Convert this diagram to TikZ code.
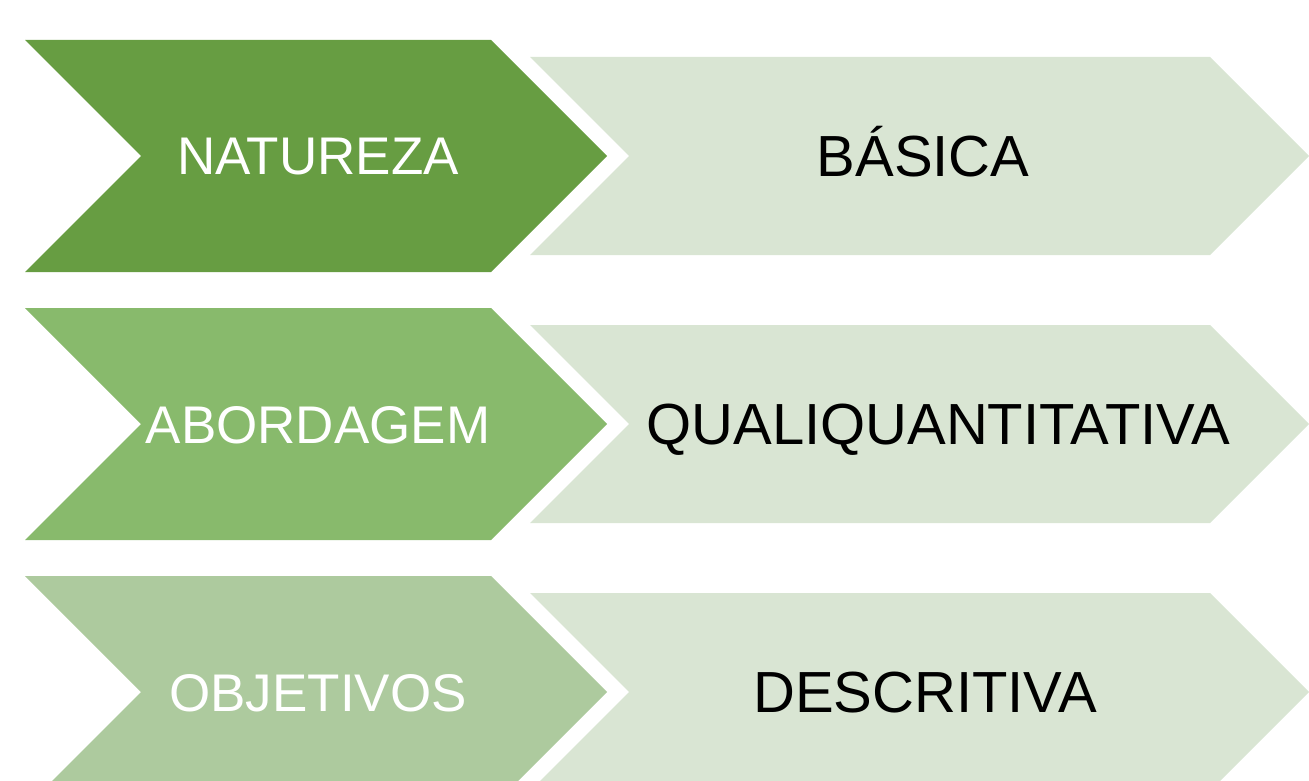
\documentclass[tikz,border=0pt]{standalone}
\usepackage{fontspec}
\setmainfont{Liberation Sans}
\definecolor{greendark}{HTML}{679D42}
\definecolor{greenmid}{HTML}{88BA6C}
\definecolor{greenpale}{HTML}{ADCA9E}
\definecolor{greenback}{HTML}{D9E5D3}
\begin{document}
\begin{tikzpicture}[x=1pt,y=-1pt]
  \tikzstyle{keylabel}=[inner sep=0pt,text height=38pt,text depth=0pt,
    text=white,font=\fontsize{53}{60}\selectfont]
  \tikzstyle{valuelabel}=[inner sep=0pt,text height=41.5pt,text depth=0pt,
    text=black,font=\fontsize{58}{66}\selectfont]
  \useasboundingbox (0,0) rectangle (1309,781);
  % left chevrons
  \fill[greendark] (25,40) -- (491,40) -- (607,156) -- (491,272) -- (25,272) -- (141,156) -- cycle;
  \fill[greenmid] (25,308) -- (491,308) -- (607,424) -- (491,540) -- (25,540) -- (141,424) -- cycle;
  \fill[greenpale] (25,576) -- (491,576) -- (607,692) -- (491,808) -- (25,808) -- (141,692) -- cycle;
  % right chevrons
  \fill[greenback] (530,57) -- (1210,57) -- (1309,156) -- (1210,255) -- (530,255) -- (629,156) -- cycle;
  \fill[greenback] (530,325) -- (1210,325) -- (1309,424) -- (1210,523) -- (530,523) -- (629,424) -- cycle;
  \fill[greenback] (530,593) -- (1210,593) -- (1309,692) -- (1210,791) -- (530,791) -- (629,692) -- cycle;
  % labels
  \node[keylabel] (natureza) at (318,156) {NATUREZA};
  \node[keylabel] (abordagem) at (318,424) {ABORDAGEM};
  \node[keylabel] (objetivos) at (318,692) {OBJETIVOS};
  \node[valuelabel] (basica) at (923,156) {BÁSICA};
  \node[valuelabel] (quali) at (938,424) {QUALIQUANTITATIVA};
  \node[valuelabel] (descritiva) at (925,692) {DESCRITIVA};
\end{tikzpicture}
\end{document}
